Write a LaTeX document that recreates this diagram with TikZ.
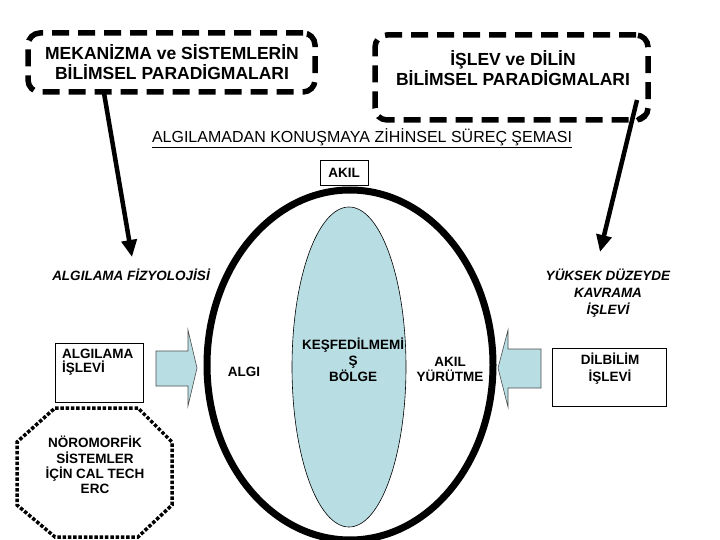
\documentclass[tikz,border=0pt]{standalone}
\usepackage{fontspec}
\setmainfont{Liberation Sans}
\usetikzlibrary{arrows.meta,shapes.geometric}
\definecolor{lblue}{RGB}{184,222,228}
\tikzset{
  dbox/.style={draw, line width=5.5pt, dash pattern=on 17pt off 9pt, rounded corners=12pt, inner sep=0pt},
  dtext/.style={align=center, inner sep=0pt, font=\fontsize{17.5}{20}\selectfont\bfseries},
  btext/.style={align=center, inner sep=0pt, font=\fontsize{13.5}{16}\selectfont\bfseries},
  itext/.style={align=center, inner sep=0pt, font=\fontsize{13.5}{17}\selectfont\bfseries\itshape},
  thinbox/.style={draw, line width=0.8pt, inner sep=0pt},
  bigarrow/.style={line width=4.5pt, -{Triangle[length=17pt,width=15pt]}},
  blockarrow/.style={fill=lblue, draw=black!70, line width=0.6pt, line join=miter},
}
\begin{document}
\begin{tikzpicture}[x=1pt,y=-1pt]
\useasboundingbox (0,0) rectangle (720,540);

% dashed paradigm boxes
\node[dbox, minimum width=287pt, minimum height=59pt] (mekbox) at (171.5,62.5) {};
\node[dtext] (mek) at (172,62) {MEKANİZMA ve SİSTEMLERİN\\BİLİMSEL PARADİGMALARI};
\node[dbox, minimum width=273pt, minimum height=85pt] (islbox) at (511.5,77.5) {};
\node[dtext] (isl) at (513,68) {İŞLEV ve DİLİN\\BİLİMSEL PARADİGMALARI};

% title
\node[inner sep=0pt, font=\fontsize{16}{18}\selectfont] (title) at (362,138) {\underline{ALGILAMADAN KONUŞMAYA ZİHİNSEL SÜREÇ ŞEMASI}};

% AKIL box
\node[thinbox, btext, minimum width=48pt, minimum height=25pt] (akil) at (344,173) {AKIL};

% big mind ellipse
\node[draw, ellipse, line width=7pt, minimum width=286pt, minimum height=350pt, inner sep=0pt] (mind) at (350,365) {};
\node[draw, ellipse, fill=lblue, line width=0.6pt, minimum width=114pt, minimum height=320pt, inner sep=0pt] (unk) at (349,367) {};
\node[btext] (kesf) at (353,360) {KEŞFEDİLMEMİ\\Ş\\BÖLGE};
\node[btext, font=\fontsize{13.5}{15}\selectfont\bfseries] (yurut) at (450,369) {AKIL\\YÜRÜTME};
\node[btext] (algi) at (244,372) {ALGI};

% block arrows
\draw[blockarrow] (156,351) -- (188,351) -- (188,330) -- (197,368) -- (188,406) -- (188,386) -- (156,386) -- cycle;
\draw[blockarrow] (541,349) -- (508,349) -- (508,330) -- (498,368) -- (508,407) -- (508,388) -- (541,388) -- cycle;

% left side
\node[itext] (fizyo) at (131,275) {ALGILAMA FİZYOLOJİSİ};
\node[thinbox, minimum width=88pt, minimum height=59pt] (algbox) at (99,372.5) {};
\node[btext, align=left, anchor=west, font=\fontsize{13.5}{14.5}\selectfont\bfseries] (algtext) at (62,362) {ALGILAMA\\İŞLEVİ};

% octagon
\draw[line width=3.5pt, dash pattern=on 3.5pt off 1.8pt] (55,408) -- (138,408) -- (172,442) -- (172,505) -- (138,537) -- (55,537) -- (17,505) -- (17,442) -- cycle;
\node[btext, font=\fontsize{13.5}{15.3}\selectfont\bfseries] (noro) at (95,465) {NÖROMORFİK\\SİSTEMLER\\İÇİN CAL TECH\\ERC};

% right side
\node[itext] (yuksek) at (608,293) {YÜKSEK DÜZEYDE\\KAVRAMA\\İŞLEVİ};
\node[thinbox, minimum width=114pt, minimum height=58pt] (dilbox) at (609,377) {};
\node[btext, font=\fontsize{13.5}{17}\selectfont\bfseries] (dil) at (610,368.5) {DİLBİLİM\\İŞLEVİ};

% arrows from paradigm boxes
\coordinate (a1s) at (104,93);
\coordinate (a1e) at (132,257);
\coordinate (a2s) at (637,100);
\coordinate (a2e) at (600,252);
\draw[bigarrow] (a1s) -- (a1e);
\draw[bigarrow] (a2s) -- (a2e);
\coordinate (tail1) at (637,120);
\coordinate (tail2) at (647,113);
\draw[line width=4pt] (tail1) -- (tail2);
\end{tikzpicture}
\end{document}
